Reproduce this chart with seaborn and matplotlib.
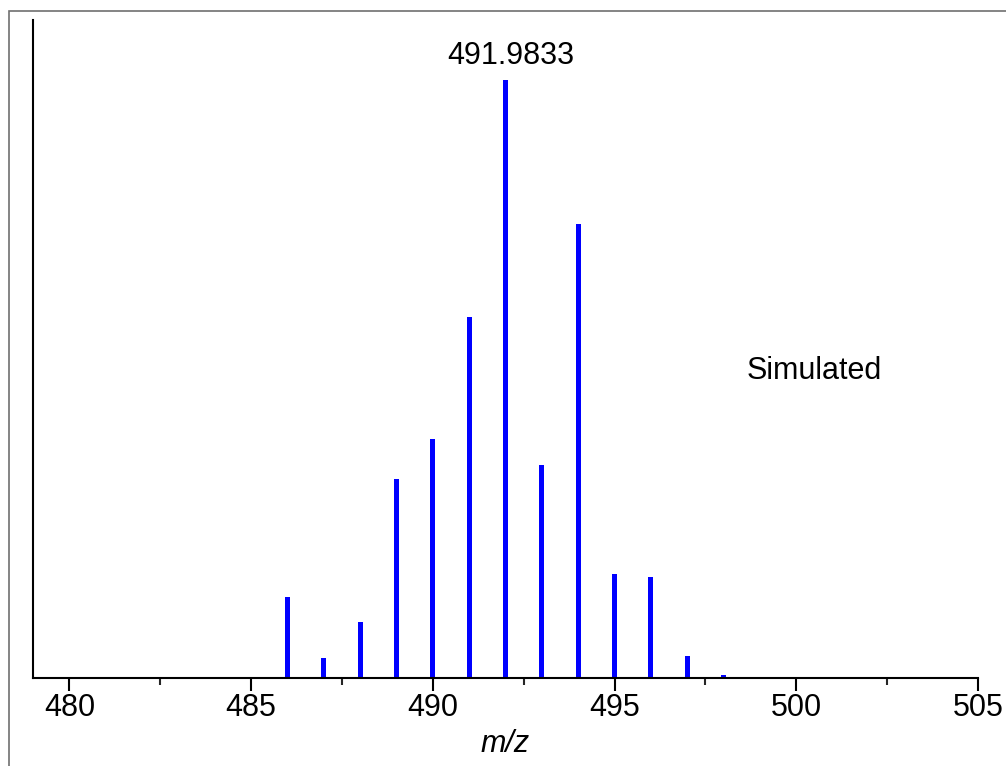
import seaborn as sns
import matplotlib.pyplot as plt
from matplotlib.patches import Rectangle
from matplotlib.ticker import MultipleLocator

# simulated isotope pattern (relative intensity, %)
mz = [486, 487, 488, 489, 490, 491, 492, 493, 494, 495, 496, 497, 498]
intensity = [13.5, 3.3, 9.4, 33.3, 40.0, 60.4, 100.0, 35.6, 75.9, 17.4, 16.9, 3.7, 0.5]
peak_label = "491.9833"
x_ticks = [480, 485, 490, 495, 500, 505]

sns.set_style("ticks")
plt.rcParams['font.family'] = ['Liberation Sans', 'DejaVu Sans']
plt.rcParams['text.color'] = 'black'

fig = plt.figure(figsize=(10.06, 7.66), dpi=100)
ax = fig.add_axes([0.0328, 0.1149, 0.9394, 0.859])

sns.barplot(x=mz, y=intensity, native_scale=True, width=0.14,
            color="blue", saturation=1, linewidth=0, ax=ax)

ax.set_xlim(479, 505)
ax.set_ylim(0, 110)
ax.set_xticks(x_ticks)
ax.set_xticklabels([str(t) for t in x_ticks])
ax.xaxis.set_minor_locator(MultipleLocator(2.5))
ax.set_yticks([])
ax.tick_params(axis="x", which="major", length=9, width=1.5, direction="out",
               labelsize=22, pad=2, color="black", labelcolor="black")
ax.tick_params(axis="x", which="minor", length=5, width=1.5, direction="out")
ax.set_xlabel("m/z", fontsize=22, style="italic", labelpad=4, color="black")
ax.set_ylabel("")

sns.despine(ax=ax)
for side in ["left", "bottom"]:
    ax.spines[side].set_linewidth(1.5)
    ax.spines[side].set_color("black")

ax.text(492.15, 104.0, peak_label, ha="center", va="center", fontsize=22, color="black")
ax.text(500.5, 51.3, "Simulated", ha="center", va="center", fontsize=22, color="black")

# outer frame
fig.patches.append(Rectangle((9 / 1006, -0.05), 1.1, 1 - 11 / 766 + 0.05,
                             transform=fig.transFigure, fill=False,
                             edgecolor="#707070", linewidth=1.2))

fig.savefig("out.png", dpi=100)
